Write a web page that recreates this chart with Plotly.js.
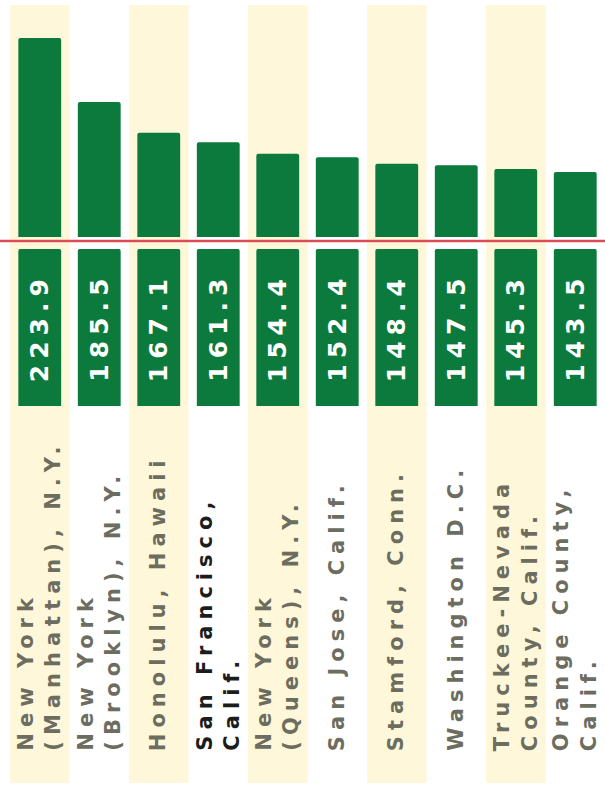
<!DOCTYPE html>
<html>
<head>
<meta charset="utf-8">
<script src="https://cdn.plot.ly/plotly-3.0.1.min.js"></script>
<style>
  html, body { margin: 0; padding: 0; background: #ffffff; }
  #chart { width: 605px; height: 793px; }
  .annotation-text { letter-spacing: 6px; }
  .annotation.value-ann .annotation-text { letter-spacing: 7px; }
</style>
</head>
<body>
<div id="chart"></div>
<script>
// ---- data ----
const categories = [
  'New York (Manhattan), N.Y.', 'New York (Brooklyn), N.Y.', 'Honolulu, Hawaii',
  'San Francisco, Calif.', 'New York (Queens), N.Y.', 'San Jose, Calif.',
  'Stamford, Conn.', 'Washington D.C.', 'Truckee-Nevada County, Calif.', 'Orange County, Calif.'
];
const tickLabels = [
  'New York<br>(Manhattan), N.Y.', 'New York<br>(Brooklyn), N.Y.', 'Honolulu, Hawaii',
  'San Francisco,<br>Calif.', 'New York<br>(Queens), N.Y.', 'San Jose, Calif.',
  'Stamford, Conn.', 'Washington D.C.', 'Truckee-Nevada<br>County, Calif.', 'Orange County,<br>Calif.'
];
const values = [223.9, 185.5, 167.1, 161.3, 154.4, 152.4, 148.4, 147.5, 145.3, 143.5];
const labelColors = ['#6c6d5f', '#6c6d5f', '#6c6d5f', '#1c1c1c', '#6c6d5f',
                     '#6c6d5f', '#6c6d5f', '#6c6d5f', '#6c6d5f', '#6c6d5f'];

// ---- styling ----
const GREEN = '#0b7a3c';
const CREAM = '#fff7d9';
const FONT = 'DejaVu Sans';
const BOX_DOMAIN = [0.4846, 0.6864];

const barTrace = {
  type: 'bar', x: categories, y: values,
  marker: { color: GREEN, cornerradius: 2, line: { width: 0 } },
  xaxis: 'x', yaxis: 'y', hoverinfo: 'skip', showlegend: false
};

const boxTrace = {
  type: 'bar', x: categories, y: values.map(() => 1),
  marker: { color: GREEN, cornerradius: 2, line: { width: 0 } },
  xaxis: 'x', yaxis: 'y2', hoverinfo: 'skip', showlegend: false
};

const shapes = categories
  .map((c, i) => i)
  .filter(i => i % 2 === 0)
  .map(i => ({
    type: 'rect', layer: 'below', xref: 'x', yref: 'paper',
    x0: i - 0.5, x1: i + 0.5, y0: 0, y1: 1,
    fillcolor: CREAM, line: { width: 0 }
  }));
shapes.push({
  type: 'line', layer: 'above', xref: 'paper', yref: 'paper',
  x0: -0.02, x1: 1, y0: 0.6967, y1: 0.6967,
  line: { color: '#dc4c55', width: 2.5 }
});

const labelAnns = tickLabels.map((t, i) => ({
  text: '<b>' + t.split('<br>').join('</b><br><b>') + '</b>',
  x: categories[i], xref: 'x', y: 0.04, yref: 'paper',
  xanchor: 'center', yanchor: 'bottom', textangle: -90, align: 'left',
  showarrow: false, borderpad: 0,
  font: { family: FONT, size: 21, color: labelColors[i], weight: 700 }
}));

const valueAnns = values.map((v, i) => ({
  text: '<b>' + v.toFixed(1) + '</b>',
  x: categories[i], xref: 'x', y: 0.5, yref: 'y2',
  xanchor: 'center', yanchor: 'middle', textangle: -90,
  showarrow: false, borderpad: 0, name: 'value',
  font: { family: FONT, size: 25, color: '#ffffff', weight: 700 }
}));

const layout = {
  width: 605, height: 793,
  margin: { l: 10, r: 0, t: 5, b: 10, pad: 0 },
  paper_bgcolor: '#ffffff', plot_bgcolor: 'rgba(0,0,0,0)',
  barmode: 'overlay', bargap: 0.28,
  showlegend: false,
  xaxis: {
    type: 'category', range: [-0.5, 9.5], showticklabels: false,
    showgrid: false, zeroline: false, showline: false, ticks: '', fixedrange: true
  },
  yaxis: {
    domain: [0.7018, 1], range: [104.5, 243.7],
    showticklabels: false, showgrid: false, zeroline: false, showline: false, ticks: ''
  },
  yaxis2: {
    domain: BOX_DOMAIN, range: [0, 1],
    showticklabels: false, showgrid: false, zeroline: false, showline: false, ticks: ''
  },
  shapes: shapes,
  annotations: labelAnns.concat(valueAnns)
};

Plotly.newPlot('chart', [barTrace, boxTrace], layout, { displayModeBar: false, staticPlot: true });
</script>
</body>
</html>
